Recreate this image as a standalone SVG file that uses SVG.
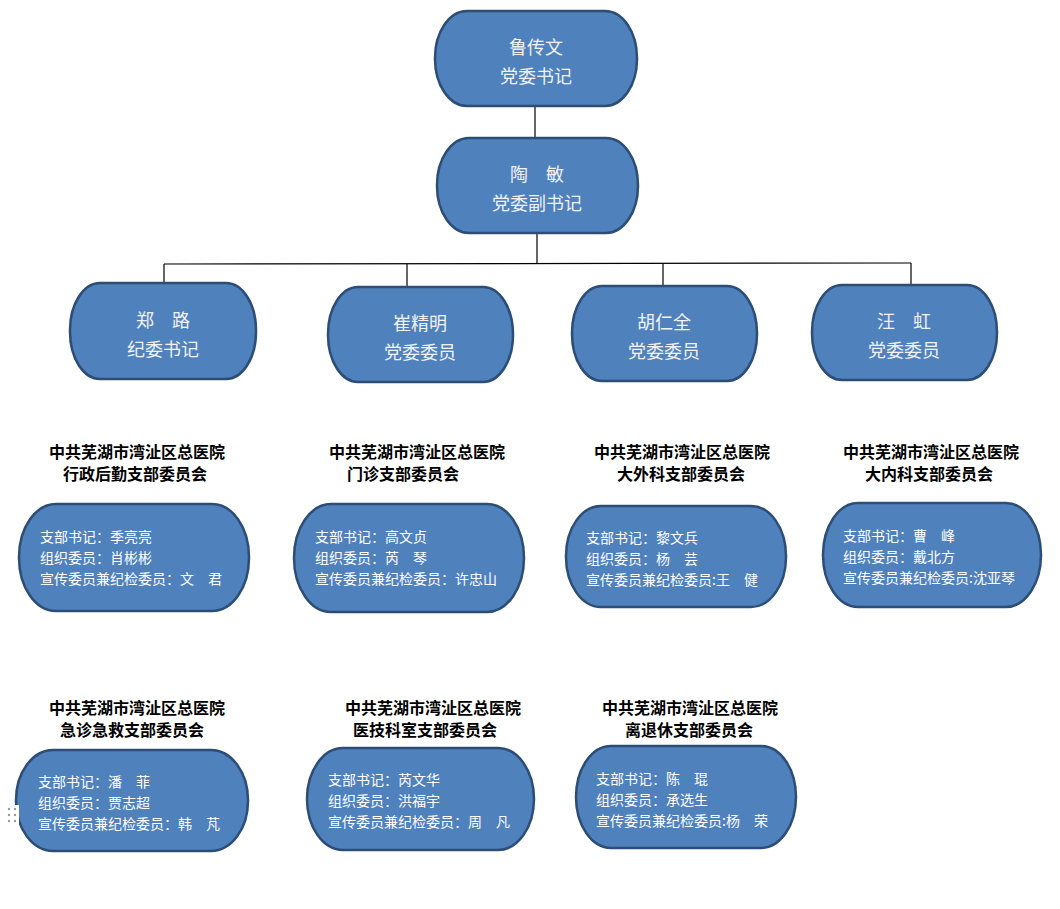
<svg xmlns="http://www.w3.org/2000/svg" width="1060" height="909" viewBox="0 0 1060 909">
<style>
.bg{fill:#ffffff}
.shape{fill:#4f81bd;stroke:#2c4d75;stroke-width:2.5}
.nt{font-family:"Noto Sans CJK SC","Noto Sans",sans-serif;font-size:18px;fill:#f2f2f2;text-anchor:middle}
.bt{font-family:"Noto Sans CJK SC","Noto Sans",sans-serif;font-size:14px;fill:#ffffff}
.tt{font-family:"Noto Sans CJK SC","Noto Sans",sans-serif;font-size:16px;font-weight:bold;fill:#000000;text-anchor:middle}
.conn line{stroke:#000000;stroke-width:1.2}
.dot{fill:#9a9a9a}
</style>
<rect class="bg" x="0" y="0" width="1060" height="909"/>
<g id="connectors" class="conn">
<line x1="535" y1="107" x2="535" y2="137"/>
<line x1="537" y1="234" x2="537" y2="264"/>
<line x1="164" y1="264" x2="911" y2="263"/>
<line x1="164" y1="264" x2="164" y2="283"/>
<line x1="407" y1="264" x2="407" y2="287"/>
<line x1="663" y1="264" x2="663" y2="286"/>
<line x1="911" y1="263" x2="911" y2="285"/>
</g>
<g id="n-lu">
<rect class="shape" x="435" y="11" width="202" height="95" rx="32" ry="47"/>
<text class="nt" x="536" y="54">鲁传文</text>
<text class="nt" x="536" y="83">党委书记</text>
</g>
<g id="n-tao">
<rect class="shape" x="437" y="138" width="201" height="95" rx="32" ry="47"/>
<text class="nt" x="537" y="181">陶　敏</text>
<text class="nt" x="537" y="210">党委副书记</text>
</g>
<g id="n-zheng">
<rect class="shape" x="70" y="283" width="186" height="96" rx="30" ry="47"/>
<text class="nt" x="163" y="327">郑　路</text>
<text class="nt" x="163" y="356">纪委书记</text>
</g>
<g id="n-cui">
<rect class="shape" x="328" y="287" width="185" height="95" rx="30" ry="47"/>
<text class="nt" x="420" y="330">崔精明</text>
<text class="nt" x="420" y="359">党委委员</text>
</g>
<g id="n-hu">
<rect class="shape" x="572" y="286" width="185" height="95" rx="30" ry="47"/>
<text class="nt" x="664" y="329">胡仁全</text>
<text class="nt" x="664" y="358">党委委员</text>
</g>
<g id="n-wang">
<rect class="shape" x="812" y="285" width="185" height="95" rx="30" ry="47"/>
<text class="nt" x="904" y="328">汪　虹</text>
<text class="nt" x="904" y="357">党委委员</text>
</g>
<g id="b-xingzheng">
<text class="tt" x="137" y="458">中共芜湖市湾沚区总医院</text>
<text class="tt" x="135" y="480">行政后勤支部委员会</text>
<rect class="shape" x="19" y="504" width="230" height="107" rx="37" ry="53"/>
<text class="bt" x="40" y="542">支部书记：季亮亮</text>
<text class="bt" x="40" y="563">组织委员：肖彬彬</text>
<text class="bt" x="40" y="584">宣传委员兼纪检委员：文　君</text>
</g>
<g id="b-menzhen">
<text class="tt" x="417" y="458">中共芜湖市湾沚区总医院</text>
<text class="tt" x="403" y="480">门诊支部委员会</text>
<rect class="shape" x="294" y="504" width="230" height="108" rx="37" ry="54"/>
<text class="bt" x="315" y="542">支部书记：高文贞</text>
<text class="bt" x="315" y="563">组织委员：芮　琴</text>
<text class="bt" x="315" y="584">宣传委员兼纪检委员：许忠山</text>
</g>
<g id="b-waike">
<text class="tt" x="682" y="458">中共芜湖市湾沚区总医院</text>
<text class="tt" x="681" y="480">大外科支部委员会</text>
<rect class="shape" x="566" y="506" width="220" height="101" rx="35" ry="50"/>
<text class="bt" x="586" y="543">支部书记：黎文兵</text>
<text class="bt" x="586" y="564">组织委员：杨　芸</text>
<text class="bt" x="586" y="585">宣传委员兼纪检委员:王　健</text>
</g>
<g id="b-neike">
<text class="tt" x="931" y="458">中共芜湖市湾沚区总医院</text>
<text class="tt" x="929" y="480">大内科支部委员会</text>
<rect class="shape" x="823" y="503" width="218" height="104" rx="35" ry="52"/>
<text class="bt" x="843" y="541">支部书记：曹　峰</text>
<text class="bt" x="843" y="562">组织委员：戴北方</text>
<text class="bt" x="843" y="583">宣传委员兼纪检委员:沈亚琴</text>
</g>
<g id="b-jizhen">
<text class="tt" x="137" y="714">中共芜湖市湾沚区总医院</text>
<text class="tt" x="132" y="736">急诊急救支部委员会</text>
<rect class="shape" x="16" y="750" width="232" height="101" rx="37" ry="50"/>
<text class="bt" x="38" y="787">支部书记：潘　菲</text>
<text class="bt" x="38" y="808">组织委员：贾志超</text>
<text class="bt" x="38" y="829">宣传委员兼纪检委员：韩　芃</text>
</g>
<g id="b-yiji">
<text class="tt" x="433" y="714">中共芜湖市湾沚区总医院</text>
<text class="tt" x="425" y="736">医技科室支部委员会</text>
<rect class="shape" x="307" y="748" width="227" height="102" rx="36" ry="51"/>
<text class="bt" x="328" y="785">支部书记：芮文华</text>
<text class="bt" x="328" y="806">组织委员：洪福宇</text>
<text class="bt" x="328" y="827">宣传委员兼纪检委员：周　凡</text>
</g>
<g id="b-lituixiu">
<text class="tt" x="690" y="714">中共芜湖市湾沚区总医院</text>
<text class="tt" x="689" y="736">离退休支部委员会</text>
<rect class="shape" x="576" y="746" width="220" height="102" rx="35" ry="51"/>
<text class="bt" x="596" y="784">支部书记：陈　琨</text>
<text class="bt" x="596" y="805">组织委员：承选生</text>
<text class="bt" x="596" y="826">宣传委员兼纪检委员:杨　荣</text>
</g>
<g id="handle">
<rect x="5" y="805" width="14" height="19" fill="#ffffff"/>
<circle class="dot" cx="9" cy="809" r="1.2"/>
<circle class="dot" cx="15" cy="809" r="1.2"/>
<circle class="dot" cx="9" cy="815" r="1.2"/>
<circle class="dot" cx="15" cy="815" r="1.2"/>
<circle class="dot" cx="9" cy="821" r="1.2"/>
<circle class="dot" cx="15" cy="821" r="1.2"/>
</g>
</svg>
